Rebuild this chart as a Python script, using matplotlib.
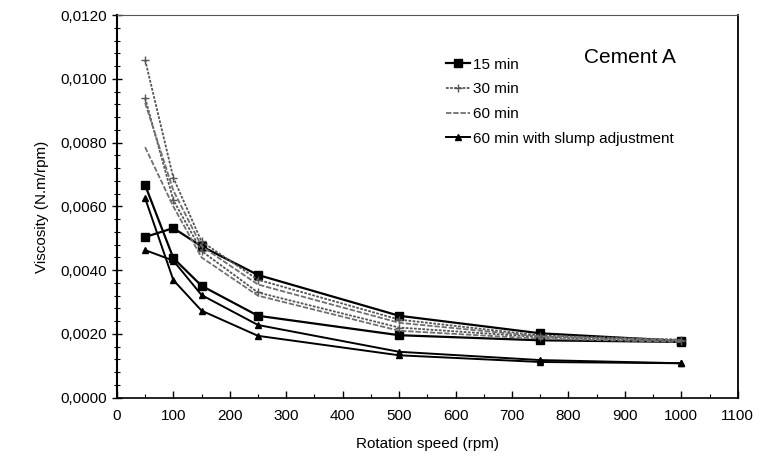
import numpy as np
import matplotlib
matplotlib.use('Agg')
import matplotlib.pyplot as plt
from matplotlib.ticker import MultipleLocator

plt.rc('font', family=['Liberation Sans', 'DejaVu Sans'], size=11)

# rotation speed (rpm) and viscosity (x 1e-3 N.m/rpm), two runs per series
speed = [50, 100, 150, 250, 500, 750, 1000]
min15_a = [6.67, 4.38, 3.51, 2.57, 1.96, 1.80, 1.75]
min15_b = [5.04, 5.32, 4.75, 3.85, 2.57, 2.02, 1.78]
min30_a = [10.6, 6.9, 4.9, 3.7, 2.45, 1.95, 1.82]
min30_b = [9.4, 6.2, 4.6, 3.3, 2.2, 1.9, 1.78]
min60_a = [9.25, 6.5, 4.75, 3.55, 2.35, 1.92, 1.80]
min60_b = [7.86, 6.0, 4.4, 3.2, 2.1, 1.85, 1.75]
slump_a = [6.26, 3.69, 2.73, 1.94, 1.33, 1.12, 1.08]
slump_b = [4.63, 4.3, 3.22, 2.28, 1.44, 1.18, 1.08]

yticks = [0, 0.002, 0.004, 0.006, 0.008, 0.010, 0.012]
ytick_labels = ['0,0000', '0,0020', '0,0040', '0,0060', '0,0080', '0,0100', '0,0120']
xticks = list(range(0, 1101, 100))

fig = plt.figure(figsize=(7.59, 4.74), dpi=100)
ax = fig.add_axes([0.154, 0.161, 0.818, 0.807])

def y(v):
    return np.array(v) * 1e-3

grey = '#555555'
ax.plot(speed, y(min15_a), color='k', lw=1.6, marker='s', ms=6, label='15 min')
ax.plot(speed, y(min15_b), color='k', lw=1.6, marker='s', ms=6)
ax.plot(speed, y(min30_a), color=grey, lw=1.3, marker='+', ms=6, mew=1,
        linestyle=(0, (1.5, 0.8)), label='30 min')
ax.plot(speed, y(min30_b), color=grey, lw=1.3, marker='+', ms=6, mew=1,
        linestyle=(0, (1.5, 0.8)))
ax.plot(speed, y(min60_a), color='#707070', lw=1.3, linestyle=(0, (3, 1)),
        label='60 min')
ax.plot(speed, y(min60_b), color='#707070', lw=1.3, linestyle=(0, (3, 1)))
ax.plot(speed, y(slump_a), color='k', lw=1.4, marker='^', ms=5,
        label='60 min with slump adjustment')
ax.plot(speed, y(slump_b), color='k', lw=1.4, marker='^', ms=5)

ax.set_xlim(0, 1100)
ax.set_ylim(0, 0.012)
ax.set_xticks(xticks)
ax.xaxis.set_minor_locator(MultipleLocator(50))
ax.set_yticks(yticks, labels=ytick_labels)
ax.yaxis.set_minor_locator(MultipleLocator(0.0004))
ax.tick_params(axis='y', which='major', direction='inout', length=7, width=1)
ax.tick_params(axis='y', which='minor', direction='inout', length=4, width=0.8)
ax.tick_params(axis='x', which='major', direction='in', length=5, width=1, pad=8)
ax.tick_params(axis='x', which='minor', direction='in', length=3, width=0.8)
ax.spines['left'].set_linewidth(1.5)
ax.spines['bottom'].set_linewidth(1.2)
ax.spines['top'].set_color('#555555')
ax.spines['right'].set_linewidth(1.3)

ax.set_xlabel('Rotation speed (rpm)', labelpad=10)
ax.set_ylabel('Viscosity (N.m/rpm)', labelpad=8)

ax.text(0.752, 0.875, 'Cement A', transform=ax.transAxes, fontsize=15)
ax.legend(loc='upper left', bbox_to_anchor=(0.52, 0.905), frameon=False,
          handlelength=1.6, handletextpad=0.2, labelspacing=0.7,
          borderaxespad=0, fontsize=11)

fig.savefig('out.png', dpi=100)
